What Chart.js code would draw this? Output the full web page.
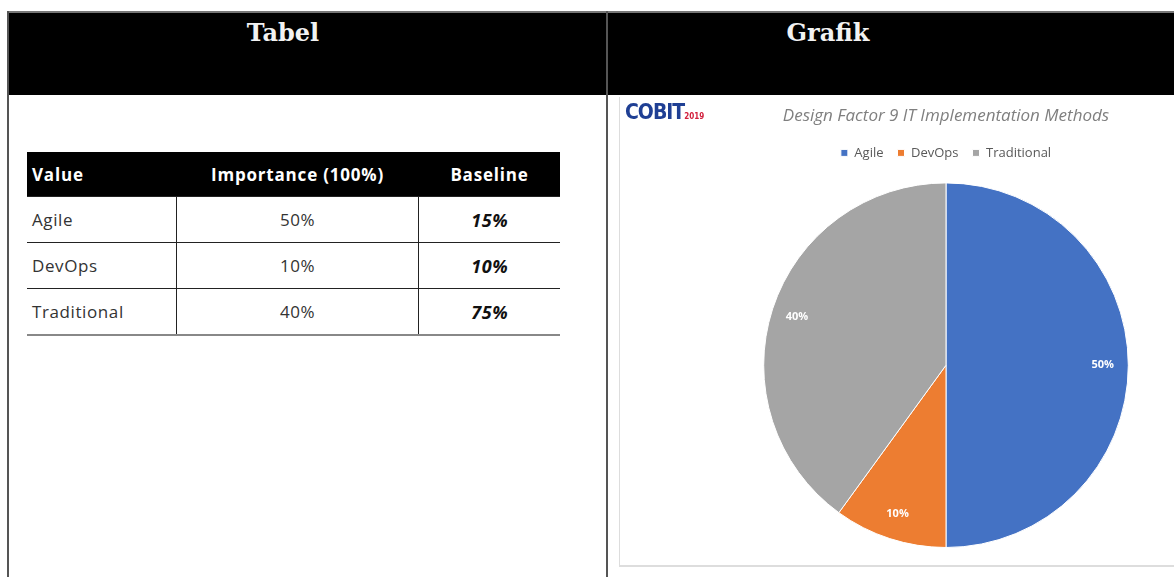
<!DOCTYPE html>
<html>
<head>
<meta charset="utf-8">
<script src="https://cdn.jsdelivr.net/npm/chart.js@4/dist/chart.umd.min.js"></script>
<style>
  html, body { margin: 0; padding: 0; background: #fff; overflow: hidden; width: 1174px; height: 577px; }
  body { position: relative; font-family: "Open Sans", "Noto Sans", sans-serif; }
  .box { position: absolute; }
  .hdr { position: absolute; top: 11px; height: 84px; background: #000; border-top: 2px solid #777; box-sizing: border-box; }
  .hdr span { position: absolute; top: 5px; color: #f2f2f2; font-family: "DejaVu Serif", serif; font-weight: bold; font-size: 24px; transform: translateX(-50%); }
  .vline { position: absolute; width: 2px; background: #555; }
  table.data { position: absolute; left: 27px; top: 152px; width: 533px; border-collapse: collapse; font-size: 17px; letter-spacing: 0.6px; color: #333; }
  table.data th { background: #000; color: #fff; font-weight: bold; height: 44px; padding: 0; font-size: 17px; letter-spacing: 0.8px; }
  table.data td { height: 45px; padding: 0; border-top: 1px solid #222; }
  table.data tr:last-child td { border-bottom: 2px solid #888; }
  table.data td + td { border-left: 1px solid #222; }
  .c1 { text-align: left; padding-left: 5px !important; width: 144px; }
  .c2 { text-align: center; width: 243px; }
  .c3 { text-align: center; width: 141px; }
  td.c3 { font-weight: bold; font-style: italic; color: #111; font-size: 18px; }
  #chartBox { position: absolute; left: 620px; top: 97px; width: 652px; height: 468px; }
  .logo { position: absolute; left: 625px; top: 100px; font-family: "Liberation Sans Narrow", "DejaVu Sans Condensed", sans-serif; font-weight: bold; font-size: 21px; color: #1f3f94; letter-spacing: -1px; }
  .logo small { font-size: 8px; color: #d21f3c; letter-spacing: 0; }
</style>
</head>
<body>

<div class="hdr" style="left:8px; width:1166px;">
  <span style="left:275px;">Tabel</span>
  <span style="left:820px;">Grafik</span>
</div>
<div class="vline" style="left:7px; top:11px; height:566px;"></div>
<div class="vline" style="left:606px; top:11px; height:566px;"></div>
<div class="box" style="left:619px; top:97px; width:1px; height:468px; background:#ddd;"></div>
<div class="box" style="left:619px; top:565px; width:555px; height:2px; background:#ddd;"></div>

<table class="data" id="tbl"></table>

<div id="chartBox"><canvas id="pie"></canvas></div>
<div class="logo">COBIT<small>2019</small></div>

<script>
// table / chart data
const methods = ["Agile", "DevOps", "Traditional"];
const importance = [50, 10, 40];
const baseline = [15, 10, 75];
const headers = ["Value", "Importance (100%)", "Baseline"];
const sliceColors = ["#4472C4", "#ED7D31", "#A5A5A5"];

// build the table
const tbl = document.getElementById("tbl");
let html = "<tr><th class='c1'>" + headers[0] + "</th><th class='c2'>" + headers[1] + "</th><th class='c3'>" + headers[2] + "</th></tr>";
for (let i = 0; i < methods.length; i++) {
    html += "<tr><td class='c1'>" + methods[i] + "</td><td class='c2'>" + importance[i] + "%</td><td class='c3'>" + baseline[i] + "%</td></tr>";
}
tbl.innerHTML = html;

// percent labels inside the slices
const sliceLabels = {
    id: "sliceLabels",
    afterDatasetsDraw(chart) {
        const ctx = chart.ctx;
        const meta = chart.getDatasetMeta(0);
        ctx.save();
        ctx.fillStyle = "#fff";
        ctx.font = "bold 11px 'Open Sans', sans-serif";
        ctx.textAlign = "center";
        ctx.textBaseline = "middle";
        meta.data.forEach((arc, i) => {
            const p = arc.getProps(["x", "y", "startAngle", "endAngle", "outerRadius"], true);
            const mid = (p.startAngle + p.endAngle) / 2;
            const r = p.outerRadius * 0.86;
            ctx.fillText(chart.data.datasets[0].data[i] + "%", p.x + Math.cos(mid) * r, p.y + Math.sin(mid) * r);
        });
        ctx.restore();
    }
};

// extra gap under the legend
const legendGap = {
    id: "legendGap",
    beforeInit(chart) {
        const fit = chart.legend.fit;
        chart.legend.fit = function () {
            fit.bind(chart.legend)();
            this.height += 13;
        };
    }
};

new Chart(document.getElementById("pie"), {
    type: "pie",
    data: {
        labels: methods,
        datasets: [{
            data: importance,
            backgroundColor: sliceColors,
            borderColor: "#fff",
            borderWidth: 1
        }]
    },
    options: {
        responsive: true,
        maintainAspectRatio: false,
        animation: false,
        layout: { padding: { top: 0, bottom: 17 } },
        plugins: {
            title: {
                display: true,
                text: "Design Factor 9 IT Implementation Methods",
                color: "#7f7f7f",
                font: { family: "'Open Sans', sans-serif", size: 17, style: "italic", weight: "normal" },
                padding: { top: 9, bottom: 6 }
            },
            legend: {
                display: true,
                position: "top",
                labels: {
                    boxWidth: 7,
                    boxHeight: 7,
                    color: "#595959",
                    font: { family: "'Open Sans', sans-serif", size: 13 },
                    padding: 14
                }
            },
            tooltip: { enabled: false }
        }
    },
    plugins: [sliceLabels, legendGap]
});
</script>
</body>
</html>
